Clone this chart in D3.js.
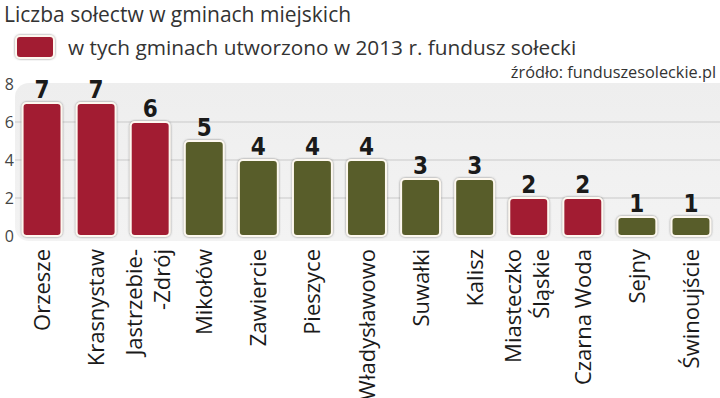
<!DOCTYPE html>
<html>
<head>
<meta charset="utf-8">
<script src="https://cdn.jsdelivr.net/npm/d3@7"></script>
<style>
  body { margin: 0; background: #fff; }
  svg { display: block; }
</style>
</head>
<body>
<div id="chart"></div>
<script>
// data
const gminy = ["Orzesze", "Krasnystaw", "Jastrzebie-\n-Zdrój", "Mikołów", "Zawiercie", "Pieszyce",
  "Władysławowo", "Suwałki", "Kalisz", "Miasteczko\nŚląskie", "Czarna Woda", "Sejny", "Świnoujście"];
const solectwa = [7, 7, 6, 5, 4, 4, 4, 3, 3, 2, 2, 1, 1];
const fundusz = [true, true, true, false, false, false, false, false, false, true, true, false, false];
const yTicks = [0, 2, 4, 6, 8];

const width = 720, height = 398;
const red = "#a21d33", olive = "#595d29";

let svg = d3.select("#chart").append("svg")
  .attr("width", width)
  .attr("height", height);

let defs = svg.append("defs");
let grad = defs.append("linearGradient").attr("id", "panel").attr("x1", 0).attr("y1", 0).attr("x2", 0).attr("y2", 1);
grad.append("stop").attr("offset", "0%").attr("stop-color", "#eeeeee");
grad.append("stop").attr("offset", "100%").attr("stop-color", "#f3f3f3");
let shadow = defs.append("filter").attr("id", "shadow").attr("x", "-20%").attr("y", "-20%").attr("width", "140%").attr("height", "140%");
shadow.append("feDropShadow").attr("dx", 0).attr("dy", 0).attr("stdDeviation", 1.2)
  .attr("flood-color", "#555").attr("flood-opacity", 0.7);

// scales
let x = d3.scaleBand()
  .domain(gminy)
  .range([15, 718])
  .paddingInner(0.28)
  .paddingOuter(0.14);

let y = d3.scaleLinear()
  .domain([0, 8])
  .range([236, 84]);

// panel
svg.append("rect")
  .attr("x", 15).attr("y", 83)
  .attr("width", 720).attr("height", 158)
  .attr("rx", 14)
  .attr("fill", "url(#panel)");

// gridlines
svg.append("g").selectAll("line")
  .data(yTicks.filter(d => d > 0 && d < 8))
  .enter().append("line")
  .attr("x1", 15).attr("x2", 720)
  .attr("y1", d => y(d)).attr("y2", d => y(d))
  .attr("stroke", "#c9c9c9").attr("stroke-width", 1);

// y axis labels
let yAxis = d3.axisLeft(y).tickValues(yTicks).tickSize(0).tickPadding(0);
let yG = svg.append("g").attr("transform", "translate(14,0)").call(yAxis);
yG.select(".domain").remove();
yG.selectAll("text")
  .attr("font-family", "Open Sans, sans-serif")
  .attr("font-size", 16)
  .attr("fill", "#444");

// bars
svg.append("g").selectAll("rect")
  .data(gminy)
  .enter().append("rect")
  .attr("x", d => x(d))
  .attr("y", (d, i) => y(solectwa[i]))
  .attr("width", x.bandwidth())
  .attr("height", (d, i) => y(0) - y(solectwa[i]))
  .attr("rx", 4)
  .attr("fill", (d, i) => fundusz[i] ? red : olive)
  .attr("stroke", "#fdf8f0")
  .attr("stroke-width", 2)
  .attr("filter", "url(#shadow)");

// value labels
svg.append("g").selectAll("text")
  .data(gminy)
  .enter().append("text")
  .attr("x", d => x(d) + x.bandwidth() / 2)
  .attr("y", (d, i) => y(solectwa[i]) - 5)
  .attr("text-anchor", "middle")
  .attr("font-family", "DejaVu Sans, sans-serif")
  .attr("font-stretch", "condensed")
  .attr("font-weight", "bold")
  .attr("font-size", 24)
  .attr("fill", "#1a1a1a")
  .text((d, i) => solectwa[i]);

// category labels (rotated)
let catG = svg.append("g").selectAll("text")
  .data(gminy)
  .enter().append("text")
  .attr("transform", d => "translate(" + (x(d) + x.bandwidth() / 2) + ",249) rotate(-90)")
  .attr("text-anchor", "end")
  .attr("font-family", "Open Sans, sans-serif")
  .attr("font-size", 22)
  .attr("fill", "#1a1a1a");

catG.each(function(d) {
  let lines = d.split("\n");
  let t = d3.select(this);
  lines.forEach((line, j) => {
    t.append("tspan")
      .attr("x", 0)
      .attr("y", lines.length === 1 ? 8 : (j === 0 ? -8 : 20))
      .text(line);
  });
});

// title
svg.append("text")
  .attr("x", 4).attr("y", 22)
  .attr("font-family", "Open Sans, sans-serif")
  .attr("font-size", 21)
  .attr("fill", "#333")
  .text("Liczba sołectw w gminach miejskich");

// legend
svg.append("rect")
  .attr("x", 16).attr("y", 36)
  .attr("width", 38).attr("height", 22)
  .attr("rx", 4)
  .attr("fill", red)
  .attr("stroke", "#fdf8f0").attr("stroke-width", 2)
  .attr("filter", "url(#shadow)");

svg.append("text")
  .attr("x", 68).attr("y", 55)
  .attr("font-family", "Open Sans, sans-serif")
  .attr("font-size", 20.8)
  .attr("fill", "#333")
  .text("w tych gminach utworzono w 2013 r. fundusz sołecki");

// source
svg.append("text")
  .attr("x", 716).attr("y", 78)
  .attr("text-anchor", "end")
  .attr("font-family", "Open Sans, sans-serif")
  .attr("font-size", 16.3)
  .attr("fill", "#333")
  .text("źródło: funduszesoleckie.pl");
</script>
</body>
</html>
